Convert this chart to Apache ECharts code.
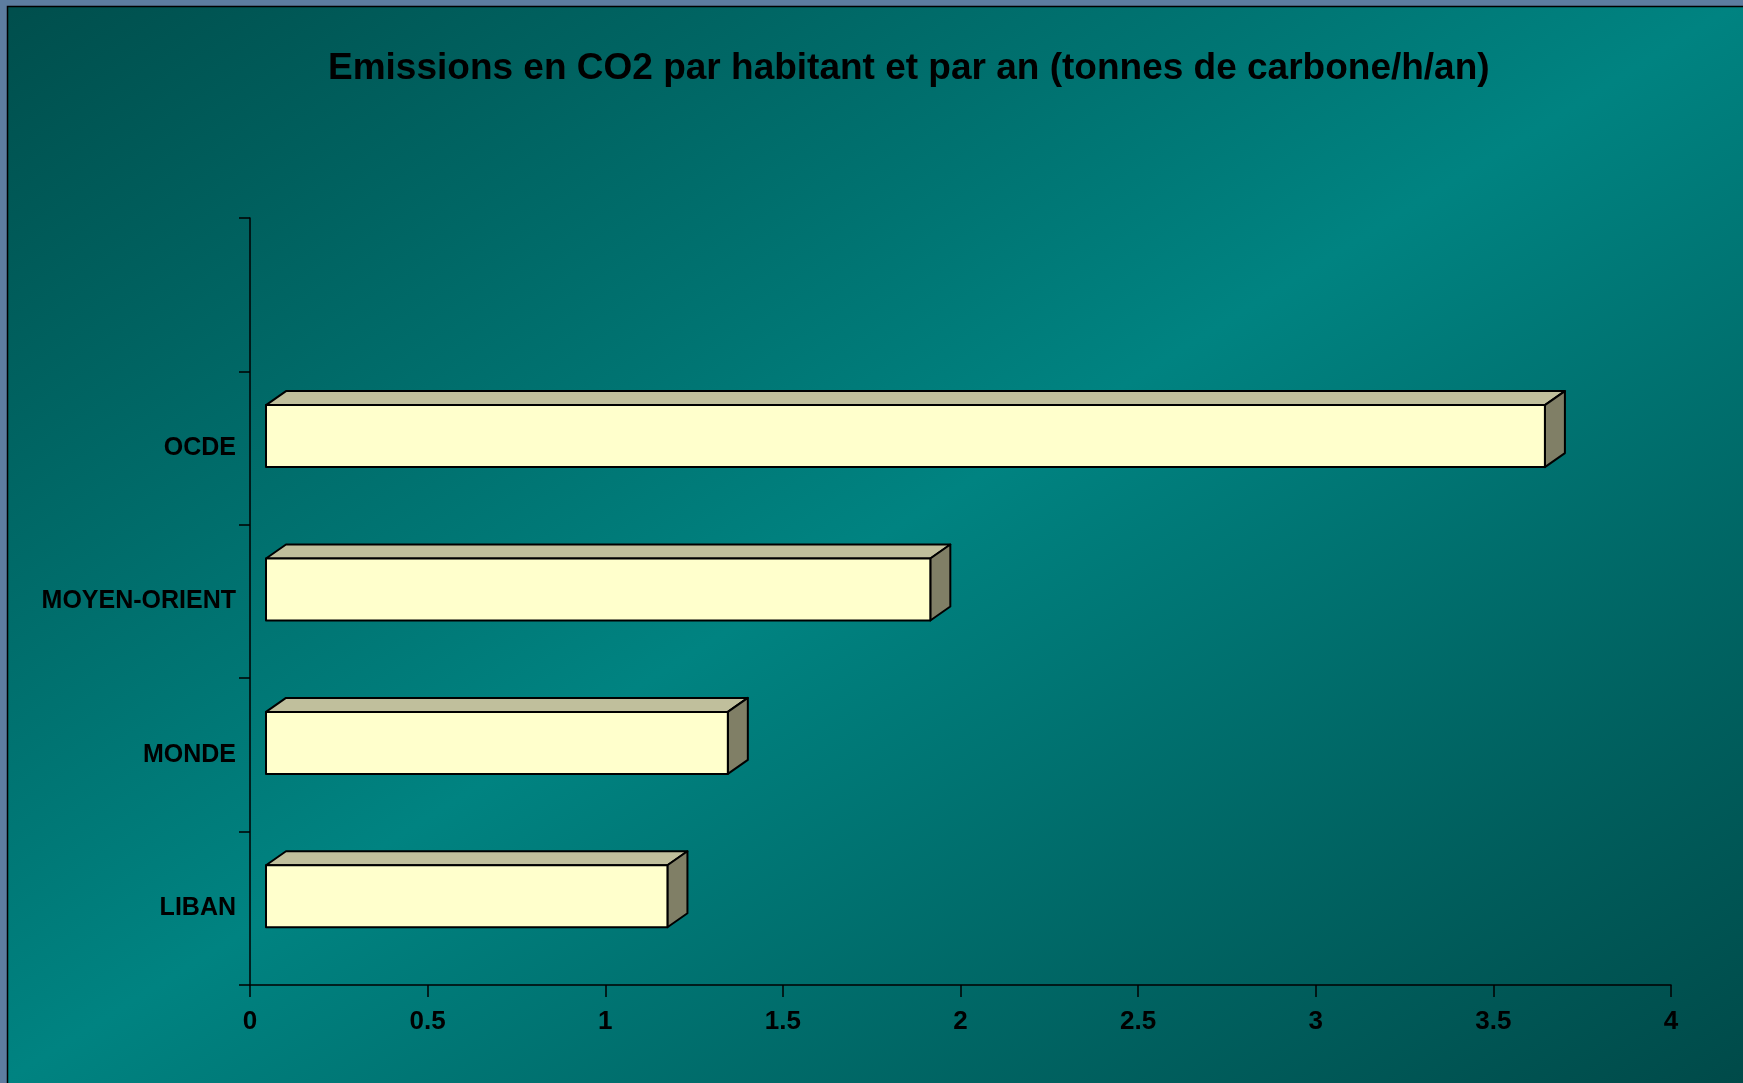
<!DOCTYPE html>
<html>
<head>
<meta charset="utf-8">
<title>Emissions en CO2</title>
<script src="https://cdn.jsdelivr.net/npm/echarts@6/dist/echarts.min.js"></script>
<style>
  html, body { margin: 0; padding: 0; background: #5d7da0; }
  #chart { width: 1743px; height: 1083px; }
</style>
</head>
<body>
<div id="chart"></div>
<script>
// categories from bottom to top, the top slot stays empty
var categories = ['LIBAN', 'MONDE', 'MOYEN-ORIENT', 'OCDE', ''];
var emissions = [1.13, 1.30, 1.87, 3.60];
var xTicks = [0, 0.5, 1, 1.5, 2, 2.5, 3, 3.5, 4];

$font = '"Liberation Sans", Arial, sans-serif';

function chart1() {
    var myChart = echarts.init(document.getElementById('chart'));

    // 3D look of the excel bars
    var shiftX = 16, shiftY = -12, depthX = 20, depthY = -14, faceH = 62;

    function renderBar(params, api) {
        var cat = api.value(1);
        var p0 = api.coord([0, cat]);
        var p1 = api.coord([api.value(0), cat]);
        var x0 = p0[0] + shiftX, x1 = p1[0] + shiftX;
        var yc = p0[1] + shiftY;
        var yt = yc - faceH / 2, yb = yc + faceH / 2;
        var line = { stroke: '#000', lineWidth: 2, lineJoin: 'round' };
        return {
            type: 'group',
            children: [
                {
                    type: 'polygon',
                    shape: { points: [[x0, yt], [x0 + depthX, yt + depthY], [x1 + depthX, yt + depthY], [x1, yt]] },
                    style: Object.assign({ fill: '#c0bf9c' }, line)
                },
                {
                    type: 'polygon',
                    shape: { points: [[x1, yt], [x1 + depthX, yt + depthY], [x1 + depthX, yb + depthY], [x1, yb]] },
                    style: Object.assign({ fill: '#807f66' }, line)
                },
                {
                    type: 'rect',
                    shape: { x: x0, y: yt, width: x1 - x0, height: yb - yt },
                    style: Object.assign({ fill: '#ffffcc' }, line)
                }
            ]
        };
    }

    option = {
        // slide style gradient, light band runs from top right to bottom left
        backgroundColor: {
            type: 'linear', x: 0, y: 0, x2: 971, y2: 1563, global: true,
            colorStops: [
                { offset: 0, color: '#004e4c' },
                { offset: 0.5, color: '#008381' },
                { offset: 1, color: '#004a49' }
            ]
        },
        title: {
            text: 'Emissions en CO2 par habitant et par an (tonnes de carbone/h/an)',
            left: 323,
            top: 45,
            textStyle: {
                fontFamily: $font,
                fontWeight: 'bold',
                fontSize: 37,
                color: '#000'
            }
        },
        grid: {
            left: 250,
            right: 72,
            top: 218,
            bottom: 98
        },
        xAxis: {
            type: 'value',
            min: 0,
            max: 4,
            interval: 0.5,
            splitLine: { show: false },
            axisLine: { show: true, lineStyle: { color: '#000', width: 1.5 } },
            axisTick: { show: true, length: 12, lineStyle: { color: '#000', width: 1.5 } },
            axisLabel: {
                margin: 24,
                fontFamily: $font,
                fontWeight: 'bold',
                fontSize: 26,
                color: '#000',
                formatter: function (v) { return xTicks.indexOf(v) >= 0 ? String(v) : ''; }
            }
        },
        yAxis: {
            type: 'category',
            data: categories,
            axisLine: { show: true, lineStyle: { color: '#000', width: 1.5 } },
            axisTick: { show: true, length: 11, lineStyle: { color: '#000', width: 1.5 } },
            axisLabel: {
                margin: 14,
                fontFamily: $font,
                fontWeight: 'bold',
                fontSize: 25,
                color: '#000'
            }
        },
        graphic: [
            { type: 'rect', shape: { x: 0, y: 0, width: 1743, height: 6 }, style: { fill: '#5d7da0' }, silent: true },
            { type: 'rect', shape: { x: 0, y: 0, width: 7, height: 1083 }, style: { fill: '#5d7da0' }, silent: true },
            { type: 'polyline', shape: { points: [[7.5, 1083], [7.5, 6.5], [1743, 6.5]] }, style: { stroke: '#000', lineWidth: 1.5, fill: null }, silent: true }
        ],
        series: [
            {
                name: 'CO2',
                type: 'custom',
                renderItem: renderBar,
                encode: { x: 0, y: 1 },
                data: emissions.map(function (v, i) { return [v, i]; })
            }
        ]
    };

    myChart.setOption(option);
}

chart1();
</script>
</body>
</html>
